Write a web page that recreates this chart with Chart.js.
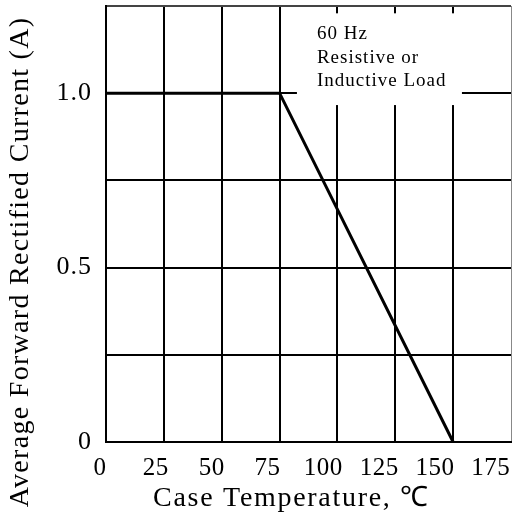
<!DOCTYPE html>
<html>
<head>
<meta charset="utf-8">
<script src="https://cdn.jsdelivr.net/npm/chart.js@4"></script>
<style>
  body { margin: 0; background: #fff; }
  canvas { display: block; }
</style>
</head>
<body>
<canvas id="derating" width="512" height="518"></canvas>
<script>
// derating curve: case temperature vs average forward current
const caseTemp = [0, 75, 150];
const avgCurrent = [1.0, 1.0, 0];
const yTickLabels = { 0: '0', 0.5: '0.5', 1: '1.0' };
const xTitle = 'Case Temperature, ℃';
const yTitle = 'Average Forward Rectified Current (A)';
const noteLines = ['60 Hz', 'Resistive or', 'Inductive Load'];

const serif = '"Liberation Serif", "Times New Roman", serif';
Chart.defaults.font.family = serif;
Chart.defaults.color = '#000';

// white note box over the grid, top right
const noteBox = {
  id: 'noteBox',
  beforeDatasetsDraw(chart) {
    const { ctx, scales: { x, y } } = chart;
    const l = x.getPixelForValue(82.5), r = x.getPixelForValue(153.8);
    const t = y.getPixelForValue(1.229), b = y.getPixelForValue(0.966);
    ctx.save();
    ctx.fillStyle = '#fff';
    ctx.fillRect(l, t, r - l, b - t);
    ctx.fillStyle = '#000';
    ctx.font = '19px ' + serif;
    ctx.letterSpacing = '1px';
    ctx.textBaseline = 'alphabetic';
    const base = [26, 50, 73];
    noteLines.forEach((s, i) => ctx.fillText(s, l + 20, t + base[i]));
    ctx.restore();
  }
};

// x tick labels sit a bit squeezed to the left in the original, plus both axis titles
const axisText = {
  id: 'axisText',
  afterDraw(chart) {
    const { ctx, chartArea: a, scales: { x } } = chart;
    ctx.save();
    ctx.fillStyle = '#000';
    ctx.textAlign = 'center';
    ctx.textBaseline = 'middle';
    ctx.font = '25px ' + serif;
    ctx.letterSpacing = '0.5px';
    x.ticks.forEach(t => {
      const px = x.getPixelForValue(t.value);
      ctx.fillText(String(t.value), x.left - 6 + (px - x.left) * 0.965, a.bottom + 26);
    });
    ctx.font = '28px ' + serif;
    ctx.letterSpacing = '1.7px';
    ctx.fillText(xTitle, (a.left + a.right) / 2 - 17, a.bottom + 57);
    ctx.letterSpacing = '1.3px';
    ctx.translate(21, (a.top + a.bottom) / 2 + 38);
    ctx.rotate(-Math.PI / 2);
    ctx.fillText(yTitle, 0, 0);
    ctx.restore();
  }
};

const spacing = {
  id: 'spacing',
  beforeDraw(chart) { chart.ctx.letterSpacing = '1px'; }
};

new Chart(document.getElementById('derating'), {
  type: 'line',
  data: {
    datasets: [{
      data: caseTemp.map((t, i) => ({ x: t, y: avgCurrent[i] })),
      borderColor: '#000',
      borderWidth: 3,
      pointRadius: 0,
      tension: 0,
      clip: false
    }]
  },
  options: {
    responsive: false,
    animation: false,
    layout: { padding: { top: 6, right: 1, left: 0, bottom: 0 } },
    plugins: { legend: { display: false }, tooltip: { enabled: false } },
    scales: {
      x: {
        type: 'linear',
        min: 0, max: 175,
        grid: {
          drawTicks: false,
          color: c => c.tick && c.tick.value === 175 ? '#888' : '#000',
          lineWidth: c => c.tick && c.tick.value === 175 ? 1 : 2
        },
        border: { color: '#000', width: 2 },
        ticks: { stepSize: 25, display: false },
        afterFit(s) { s.height = 76; s.paddingLeft = 0; s.paddingRight = 0; }
      },
      y: {
        min: 0, max: 1.25,
        grid: {
          drawTicks: false,
          color: c => c.tick && c.tick.value === 1.25 ? '#444' : '#000',
          lineWidth: 2
        },
        border: { color: '#000', width: 2 },
        ticks: {
          stepSize: 0.25,
          padding: 14,
          font: { size: 26 },
          callback: v => yTickLabels[v] !== undefined ? yTickLabels[v] : ''
        },
        afterFit(s) { s.width = 106; s.paddingTop = 0; s.paddingBottom = 0; }
      }
    }
  },
  plugins: [spacing, noteBox, axisText]
});
</script>
</body>
</html>
